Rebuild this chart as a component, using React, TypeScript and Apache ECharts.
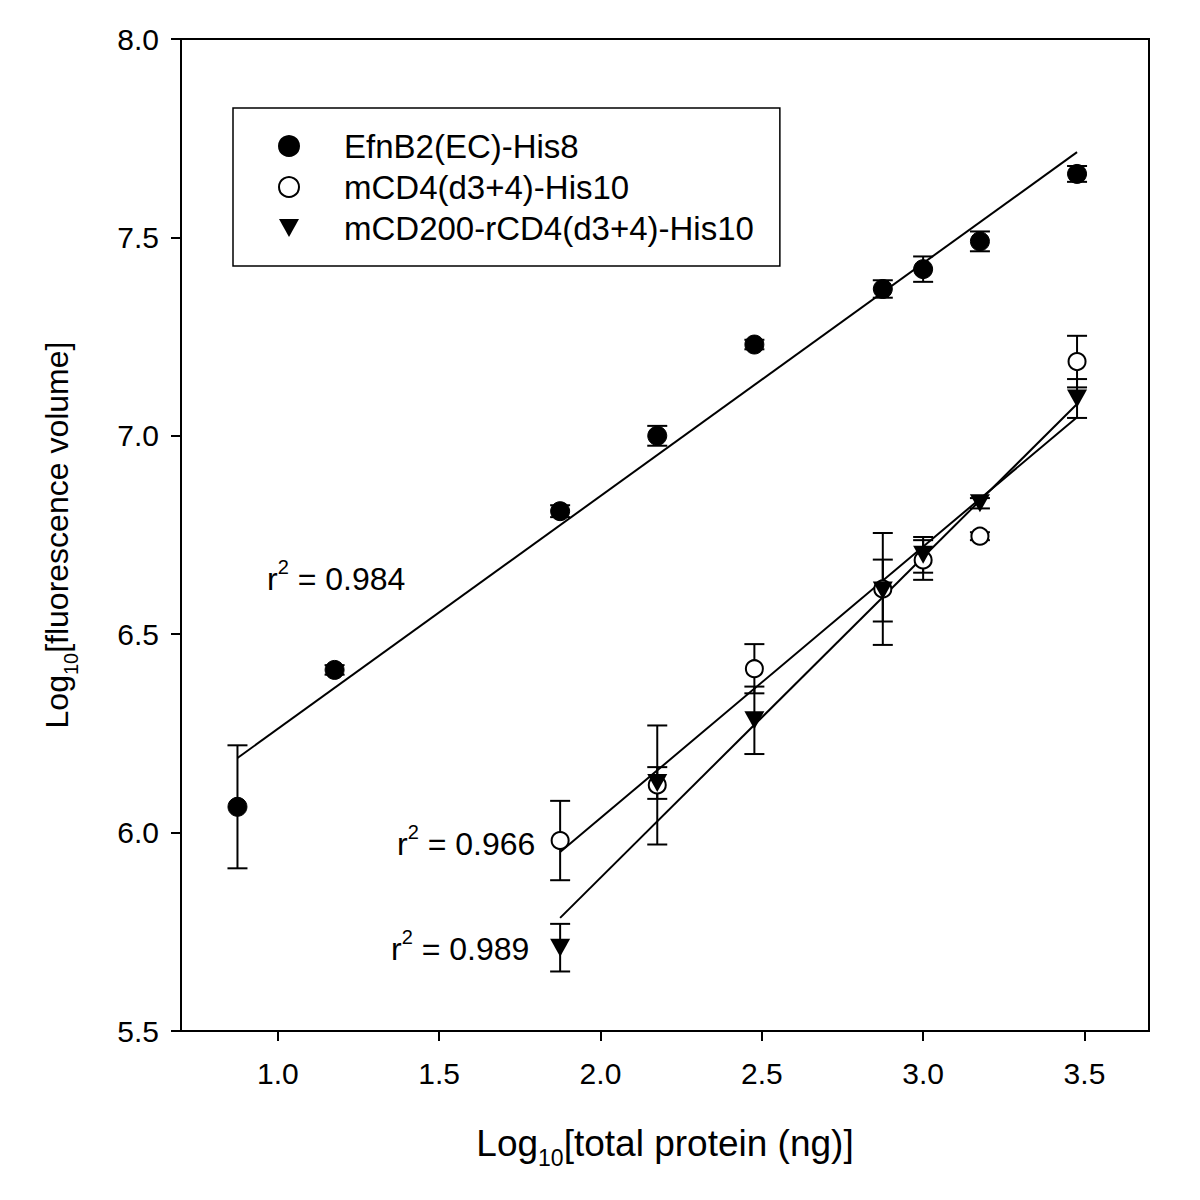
import React, { useEffect, useRef } from "react";
import * as echarts from "echarts";

// ---- data ----
const xEfn = [0.875, 1.176, 1.875, 2.176, 2.477, 2.875, 3.0, 3.176, 3.477];
const yEfn = [6.065, 6.41, 6.81, 7.0, 7.23, 7.37, 7.42, 7.49, 7.66];
const eEfn = [0.155, 0.012, 0.015, 0.025, 0.012, 0.022, 0.032, 0.025, 0.02];

const xCD4 = [1.875, 2.176, 2.477, 2.875, 3.0, 3.176, 3.477];
const yCD4 = [5.98, 6.12, 6.413, 6.614, 6.687, 6.747, 7.187];
const eCD4 = [0.1, 0.15, 0.062, 0.141, 0.05, 0.01, 0.065];

const xCD200 = [1.875, 2.176, 2.477, 2.875, 3.0, 3.176, 3.477];
const yCD200 = [5.71, 6.125, 6.283, 6.61, 6.7, 6.83, 7.094];
const eCD200 = [0.06, 0.04, 0.085, 0.078, 0.045, 0.013, 0.049];

const fitEfnX = [0.875, 3.477];
const fitEfnY = [6.188, 7.715];
const fitCD4X = [1.875, 3.477];
const fitCD4Y = [5.951, 7.047];
const fitCD200X = [1.875, 3.477];
const fitCD200Y = [5.785, 7.08];

const xTicks = [1.0, 1.5, 2.0, 2.5, 3.0, 3.5];
const names = ["EfnB2(EC)-His8", "mCD4(d3+4)-His10", "mCD200-rCD4(d3+4)-His10"];
const r2Labels = ["0.984", "0.966", "0.989"];

const FONT = "Liberation Sans, Arial, sans-serif";
const TRI = "path://M0,0 L20,0 L10,18 Z";
const OFF = 8; // body margin

function zip(xs: number[], ys: number[]) {
  return xs.map((x, i) => [x, ys[i]]);
}

function errSeries(xs: number[], ys: number[], es: number[]) {
  return {
    type: "custom",
    silent: true,
    z: 2,
    data: xs.map((x, i) => [x, ys[i] - es[i], ys[i] + es[i]]),
    encode: { x: 0, y: [1, 2] },
    renderItem: (params: any, api: any) => {
      const x = api.value(0);
      const lo = api.coord([x, api.value(1)]);
      const hi = api.coord([x, api.value(2)]);
      const w = 10;
      const style = { stroke: "#000", lineWidth: 2 };
      return {
        type: "group",
        children: [
          { type: "line", shape: { x1: lo[0], y1: lo[1], x2: hi[0], y2: hi[1] }, style },
          { type: "line", shape: { x1: lo[0] - w, y1: lo[1], x2: lo[0] + w, y2: lo[1] }, style },
          { type: "line", shape: { x1: hi[0] - w, y1: hi[1], x2: hi[0] + w, y2: hi[1] }, style },
        ],
      };
    },
  };
}

function fitSeries(xs: number[], ys: number[]) {
  return {
    type: "line",
    silent: true,
    z: 3,
    data: zip(xs, ys),
    symbol: "none",
    lineStyle: { color: "#000", width: 2 },
  };
}

function r2Text(left: number, top: number, val: string) {
  return {
    type: "text",
    left: left - OFF,
    top: top - OFF,
    style: {
      text: "{r|r}{s|2}{r| = " + val + "}",
      font: "32px " + FONT,
      fill: "#000",
      rich: {
        r: { fontSize: 32, fontFamily: FONT, fill: "#000", verticalAlign: "bottom", lineHeight: 38 },
        s: { fontSize: 20, fontFamily: FONT, fill: "#000", verticalAlign: "top", lineHeight: 38 },
      },
    },
  };
}

export default function App() {
  const ref = useRef<HTMLDivElement>(null);
  useEffect(() => {
    const chart = echarts.init(ref.current!, null, { renderer: "svg" });
    const option: any = {
      animation: false,
      backgroundColor: "#fff",
      textStyle: { fontFamily: FONT },
      grid: {
        left: 181 - OFF,
        top: 39 - OFF,
        width: 968,
        height: 992,
        show: true,
        borderColor: "#000",
        borderWidth: 2,
        backgroundColor: "transparent",
      },
      xAxis: {
        type: "value",
        min: 0.7,
        max: 3.7,
        name: "{a|Log}{b|10}{a|[total protein (ng)]}",
        nameLocation: "middle",
        nameGap: 94,
        nameTextStyle: {
          rich: {
            a: { fontSize: 37, fontFamily: FONT, color: "#000", verticalAlign: "top", lineHeight: 44 },
            b: { fontSize: 23, fontFamily: FONT, color: "#000", verticalAlign: "bottom", lineHeight: 44 },
          },
        },
        axisLine: { onZero: false, lineStyle: { color: "#000", width: 2 } },
        axisTick: { show: true, inside: false, length: 10, customValues: xTicks, lineStyle: { color: "#000", width: 2 } },
        axisLabel: {
          customValues: xTicks,
          formatter: (v: number) => v.toFixed(1),
          fontSize: 30,
          color: "#000",
          margin: 27,
          fontFamily: FONT,
        },
        splitLine: { show: false },
      },
      yAxis: {
        type: "value",
        min: 5.5,
        max: 8.0,
        interval: 0.5,
        name: "{a|Log}{b|10}{a|[fluorescence volume]}",
        nameLocation: "middle",
        nameRotate: 90,
        nameGap: 100,
        nameTextStyle: {
          rich: {
            a: { fontSize: 32, fontFamily: FONT, color: "#000", verticalAlign: "top", lineHeight: 40 },
            b: { fontSize: 20, fontFamily: FONT, color: "#000", verticalAlign: "bottom", lineHeight: 40 },
          },
        },
        axisLine: { lineStyle: { color: "#000", width: 2 } },
        axisTick: { show: true, inside: false, length: 10, lineStyle: { color: "#000", width: 2 } },
        axisLabel: {
          formatter: (v: number) => v.toFixed(1),
          fontSize: 30,
          color: "#000",
          margin: 22,
          fontFamily: FONT,
        },
        splitLine: { show: false },
      },
      legend: {
        data: names,
        orient: "vertical",
        left: 233 - OFF,
        top: 108 - OFF,
        padding: [19, 26, 19, 45],
        itemGap: 3,
        itemWidth: 20,
        itemHeight: 20,
        borderColor: "#000",
        borderWidth: 1.5,
        backgroundColor: "#fff",
        textStyle: { fontSize: 33, lineHeight: 38, color: "#000", fontFamily: FONT, padding: [0, 0, 0, 40] },
      },
      series: [
        errSeries(xEfn, yEfn, eEfn),
        errSeries(xCD4, yCD4, eCD4),
        errSeries(xCD200, yCD200, eCD200),
        fitSeries(fitEfnX, fitEfnY),
        fitSeries(fitCD4X, fitCD4Y),
        fitSeries(fitCD200X, fitCD200Y),
        {
          name: names[0],
          type: "scatter",
          z: 5,
          data: zip(xEfn, yEfn),
          symbol: "circle",
          symbolSize: 19,
          itemStyle: { color: "#000", borderColor: "#000", borderWidth: 1, opacity: 1 },
        },
        {
          name: names[1],
          type: "scatter",
          z: 5,
          data: zip(xCD4, yCD4),
          symbol: "circle",
          symbolSize: 17,
          itemStyle: { color: "#fff", borderColor: "#000", borderWidth: 2, opacity: 1 },
        },
        {
          name: names[2],
          type: "scatter",
          z: 6,
          data: zip(xCD200, yCD200),
          symbol: TRI,
          symbolSize: [20, 18],
          itemStyle: { color: "#000", opacity: 1 },
        },
      ],
      graphic: [
        r2Text(267, 557, r2Labels[0]),
        r2Text(397, 822, r2Labels[1]),
        r2Text(391, 927, r2Labels[2]),
      ],
    };
    chart.setOption(option);
    return () => chart.dispose();
  }, []);
  return <div ref={ref} style={{ width: 1200, height: 1200 }} />;
}
